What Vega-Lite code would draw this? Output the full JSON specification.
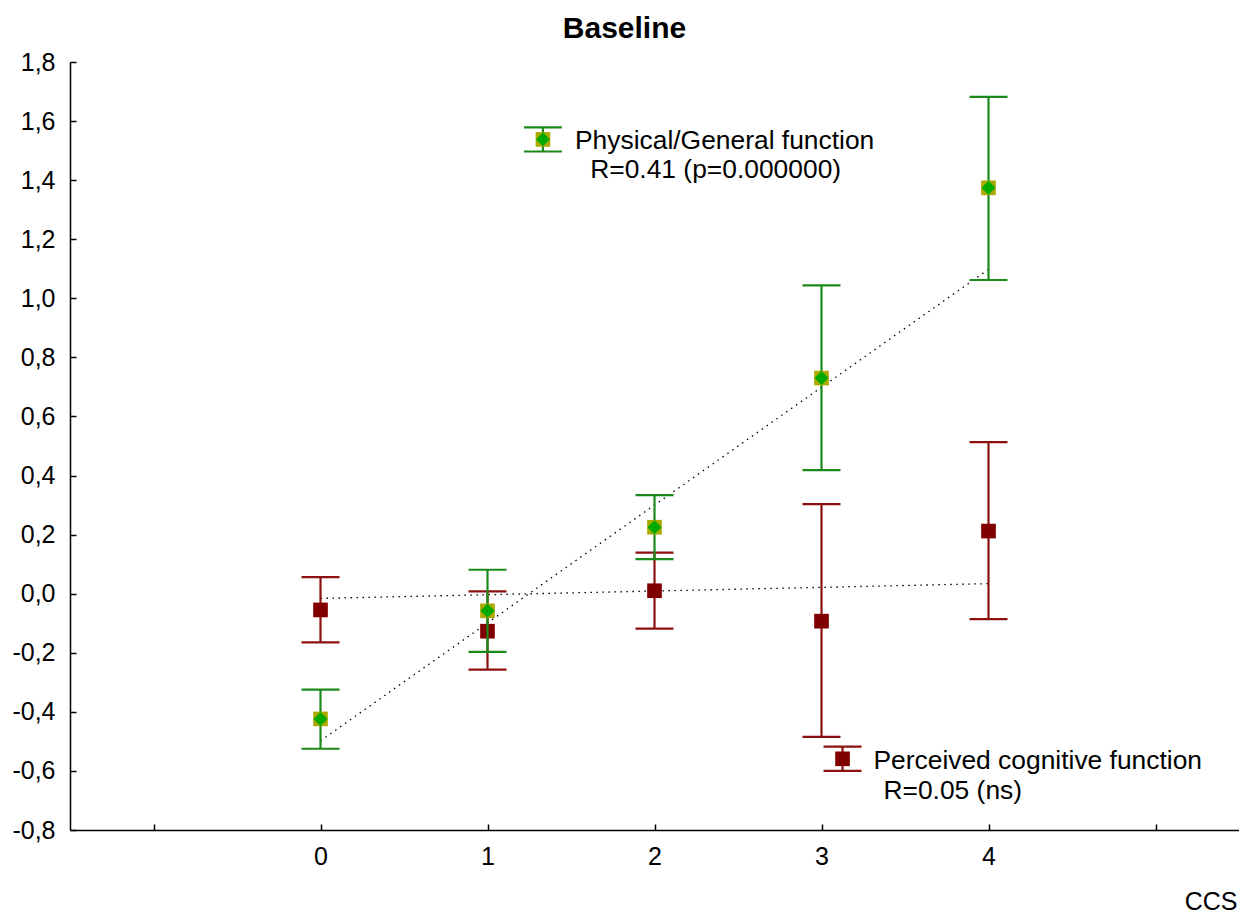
{
  "$schema": "https://vega.github.io/schema/vega-lite/v6.json",
  "width": 1169,
  "height": 768,
  "autosize": {"type": "none"},
  "padding": {"left": 70, "top": 62, "right": 0, "bottom": 84},
  "background": "white",
  "title": {
    "text": "Baseline",
    "anchor": "middle",
    "frame": "group",
    "offset": 2,
    "dy": 20,
    "baseline": "alphabetic",
    "dx": -30,
    "font": "Liberation Sans",
    "fontSize": 30,
    "fontWeight": "bold",
    "color": "black"
  },
  "datasets": {
    "means": [
      {"series": "cog", "ccs": 0, "mean": -0.055, "lo": -0.165, "hi": 0.056},
      {"series": "cog", "ccs": 1, "mean": -0.127, "lo": -0.257, "hi": 0.008},
      {"series": "cog", "ccs": 2, "mean": 0.010, "lo": -0.118, "hi": 0.139},
      {"series": "cog", "ccs": 3, "mean": -0.093, "lo": -0.485, "hi": 0.303},
      {"series": "cog", "ccs": 4, "mean": 0.212, "lo": -0.086, "hi": 0.513},
      {"series": "cog", "ccs": 3.126, "mean": -0.559, "lo": -0.6, "hi": -0.518},
      {"series": "phys", "ccs": 0, "mean": -0.424, "lo": -0.525, "hi": -0.325},
      {"series": "phys", "ccs": 1, "mean": -0.058, "lo": -0.197, "hi": 0.081},
      {"series": "phys", "ccs": 2, "mean": 0.225, "lo": 0.117, "hi": 0.334},
      {"series": "phys", "ccs": 3, "mean": 0.730, "lo": 0.418, "hi": 1.044},
      {"series": "phys", "ccs": 4, "mean": 1.374, "lo": 1.062, "hi": 1.682},
      {"series": "phys", "ccs": 1.332, "mean": 1.538, "lo": 1.497, "hi": 1.579}
    ],
    "fit": [
      {"series": "cog", "ccs": 0, "v": -0.016},
      {"series": "cog", "ccs": 4, "v": 0.034},
      {"series": "phys", "ccs": 0, "v": -0.498},
      {"series": "phys", "ccs": 4, "v": 1.098}
    ],
    "notes": [
      {"label": "Physical/General function", "x": 1.524, "y": 1.504},
      {"label": "R=0.41 (p=0.000000)", "x": 1.615, "y": 1.406},
      {"label": "Perceived cognitive function", "x": 3.311, "y": -0.592},
      {"label": "R=0.05 (ns)", "x": 3.371, "y": -0.696}
    ]
  },
  "encoding": {
    "x": {
      "field": "ccs",
      "type": "quantitative",
      "scale": {"domain": [-1.5, 5.5], "nice": false, "zero": false},
      "axis": {
        "values": [-1, 0, 1, 2, 3, 4, 5],
        "labelExpr": "datum.value >= 0 && datum.value <= 4 ? format(datum.value, 'd') : ''",
        "labelPadding": 20,
        "title": "CCS",
        "titleAnchor": "end",
        "titleAlign": "right",
        "titleBaseline": "alphabetic",
        "titleX": 1167,
        "titleY": 79,
        "titleFont": "Liberation Sans",
        "titleFontSize": 25,
        "titleFontWeight": "normal",
        "titleColor": "black"
      }
    },
    "y": {
      "field": "mean",
      "type": "quantitative",
      "scale": {"domain": [-0.8, 1.8], "nice": false, "zero": false},
      "axis": {
        "values": [-0.8, -0.6, -0.4, -0.2, 0, 0.2, 0.4, 0.6, 0.8, 1.0, 1.2, 1.4, 1.6, 1.8],
        "labelExpr": "replace(replace(format(datum.value, '.1f'), '.', ','), '\u2212', '-')",
        "labelPadding": 21,
        "title": null
      }
    }
  },
  "layer": [
    {
      "data": {"name": "fit"},
      "mark": {"type": "line", "color": "black", "strokeWidth": 1.3, "strokeDash": [1.5, 4.5]},
      "encoding": {
        "y": {"field": "v", "type": "quantitative"},
        "detail": {"field": "series"}
      }
    },
    {
      "data": {"name": "means"},
      "transform": [{"filter": "datum.series === 'cog'"}],
      "mark": {"type": "rule", "color": "#8b1010", "strokeWidth": 2.2},
      "encoding": {
        "y": {"field": "lo", "type": "quantitative"},
        "y2": {"field": "hi"}
      }
    },
    {
      "data": {"name": "means"},
      "transform": [{"filter": "datum.series === 'cog'"}],
      "mark": {"type": "tick", "orient": "horizontal", "color": "#8b1010", "size": 38, "thickness": 2.2, "opacity": 1},
      "encoding": {"y": {"field": "lo", "type": "quantitative"}}
    },
    {
      "data": {"name": "means"},
      "transform": [{"filter": "datum.series === 'cog'"}],
      "mark": {"type": "tick", "orient": "horizontal", "color": "#8b1010", "size": 38, "thickness": 2.2, "opacity": 1},
      "encoding": {"y": {"field": "hi", "type": "quantitative"}}
    },
    {
      "data": {"name": "means"},
      "transform": [{"filter": "datum.series === 'cog'"}],
      "mark": {"type": "point", "shape": "square", "filled": true, "color": "#800000", "size": 215, "opacity": 1, "strokeWidth": 0}
    },
    {
      "data": {"name": "means"},
      "transform": [{"filter": "datum.series === 'phys'"}],
      "mark": {"type": "rule", "color": "#1a8a1a", "strokeWidth": 2.2},
      "encoding": {
        "y": {"field": "lo", "type": "quantitative"},
        "y2": {"field": "hi"}
      }
    },
    {
      "data": {"name": "means"},
      "transform": [{"filter": "datum.series === 'phys'"}],
      "mark": {"type": "tick", "orient": "horizontal", "color": "#1a8a1a", "size": 38, "thickness": 2.2, "opacity": 1},
      "encoding": {"y": {"field": "lo", "type": "quantitative"}}
    },
    {
      "data": {"name": "means"},
      "transform": [{"filter": "datum.series === 'phys'"}],
      "mark": {"type": "tick", "orient": "horizontal", "color": "#1a8a1a", "size": 38, "thickness": 2.2, "opacity": 1},
      "encoding": {"y": {"field": "hi", "type": "quantitative"}}
    },
    {
      "data": {"name": "means"},
      "transform": [{"filter": "datum.series === 'phys'"}],
      "mark": {"type": "point", "shape": "square", "filled": true, "color": "#aaaa00", "size": 215, "opacity": 1, "strokeWidth": 0}
    },
    {
      "data": {"name": "means"},
      "transform": [{"filter": "datum.series === 'phys'"}],
      "mark": {"type": "point", "shape": "diamond", "filled": true, "color": "#00aa00", "size": 195, "opacity": 1, "strokeWidth": 0}
    },
    {
      "data": {"name": "notes"},
      "mark": {"type": "text", "align": "left", "baseline": "alphabetic", "font": "Liberation Sans", "fontSize": 26.4, "color": "black"},
      "encoding": {
        "x": {"field": "x", "type": "quantitative"},
        "y": {"field": "y", "type": "quantitative"},
        "text": {"field": "label"}
      }
    }
  ],
  "config": {
    "view": {"stroke": null},
    "axis": {
      "grid": false,
      "domainColor": "black",
      "domainWidth": 1.5,
      "tickColor": "black",
      "tickWidth": 1.5,
      "tickSize": -6,
      "labelFont": "Liberation Sans",
      "labelFontSize": 25,
      "labelColor": "black"
    }
  }
}
